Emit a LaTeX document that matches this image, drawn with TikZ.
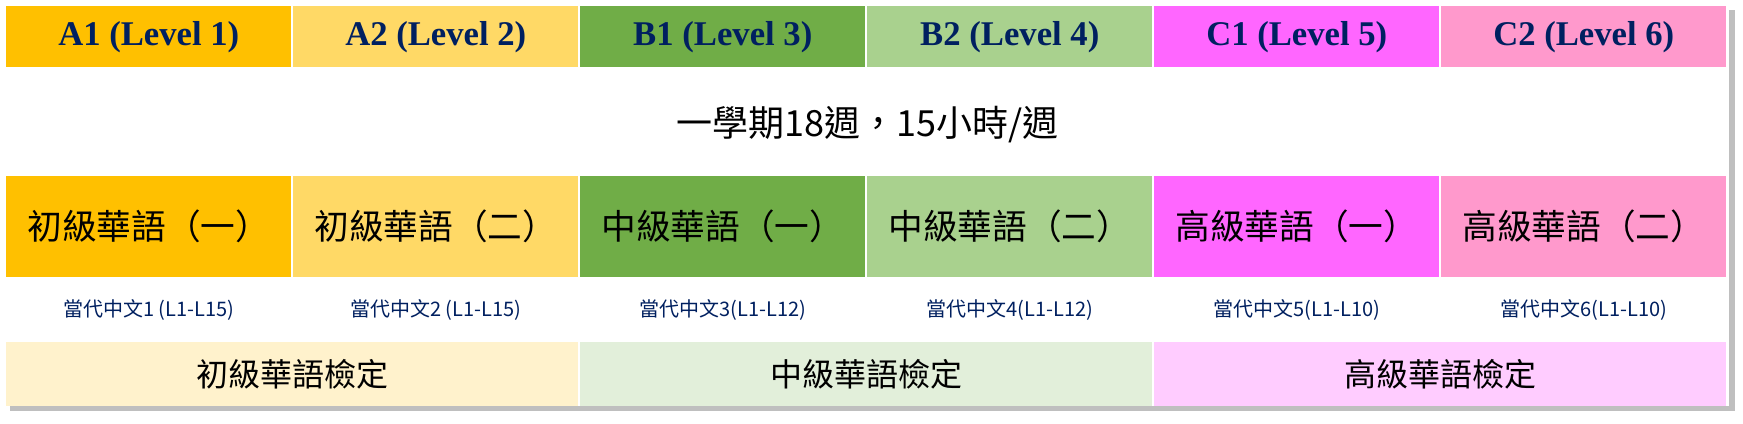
\documentclass[tikz,border=0pt]{standalone}
\usepackage{fontspec}
\setmainfont{Liberation Serif}
\newfontfamily\cjk{Noto Sans CJK TC}
\definecolor{navy}{HTML}{002060}
\definecolor{cA1}{HTML}{FFC000}
\definecolor{cA2}{HTML}{FFD966}
\definecolor{cB1}{HTML}{70AD47}
\definecolor{cB2}{HTML}{A9D18E}
\definecolor{cC1}{HTML}{FF66FF}
\definecolor{cC2}{HTML}{FF99CC}
\definecolor{eA}{HTML}{FFF2CC}
\definecolor{eB}{HTML}{E2EFDA}
\definecolor{eC}{HTML}{FFCCFF}
\begin{document}
\begin{tikzpicture}[x=0.75pt, y=-0.75pt,
     cell/.style={inner sep=0pt, minimum width=285*0.75pt, anchor=north west},
     level/.style={cell, minimum height=61*0.75pt, text=navy, font=\bfseries\fontsize{26}{28}\selectfont},
     course/.style={cell, minimum height=101*0.75pt, font=\cjk\fontsize{26}{28}\selectfont},
     book/.style={cell, minimum height=61*0.75pt, text=navy, font=\cjk\fontsize{15}{17}\selectfont},
     exam/.style={cell, minimum width=572*0.75pt, minimum height=64*0.75pt, font=\cjk\fontsize{24}{26}\selectfont}]
\useasboundingbox (0,0) rectangle (1743,424);
% shadow of the table
\fill[black!25] (10,10) rectangle (1735,411);
\fill[white] (6,6) rectangle (1729,406);
\foreach \i/\col/\lev/\crs/\bk in {
    0/cA1/A1 (Level 1)/初級華語（一）/當代中文1 (L1-L15),
    1/cA2/A2 (Level 2)/初級華語（二）/當代中文2 (L1-L15),
    2/cB1/B1 (Level 3)/中級華語（一）/當代中文3(L1-L12),
    3/cB2/B2 (Level 4)/中級華語（二）/當代中文4(L1-L12),
    4/cC1/C1 (Level 5)/高級華語（一）/當代中文5(L1-L10),
    5/cC2/C2 (Level 6)/高級華語（二）/當代中文6(L1-L10)}{
    \node[level, fill=\col] (lv\i) at (6+287*\i,6) {\lev};
    \node[course, fill=\col] (cs\i) at (6+287*\i,176) {\crs};
    \node[book, fill=white] (bk\i) at (6+287*\i,279) {\bk};
}
\node[cell, minimum width=1723*0.75pt, minimum height=102*0.75pt, fill=white,
      font=\cjk\fontsize{27}{29}\selectfont] (hours) at (6,73) {一學期18週，15小時/週};
\node[exam, fill=eA] (exA) at (6,342) {初級華語檢定};
\node[exam, fill=eB] (exB) at (580,342) {中級華語檢定};
\node[exam, fill=eC] (exC) at (1154,342) {高級華語檢定};
\end{tikzpicture}
\end{document}
